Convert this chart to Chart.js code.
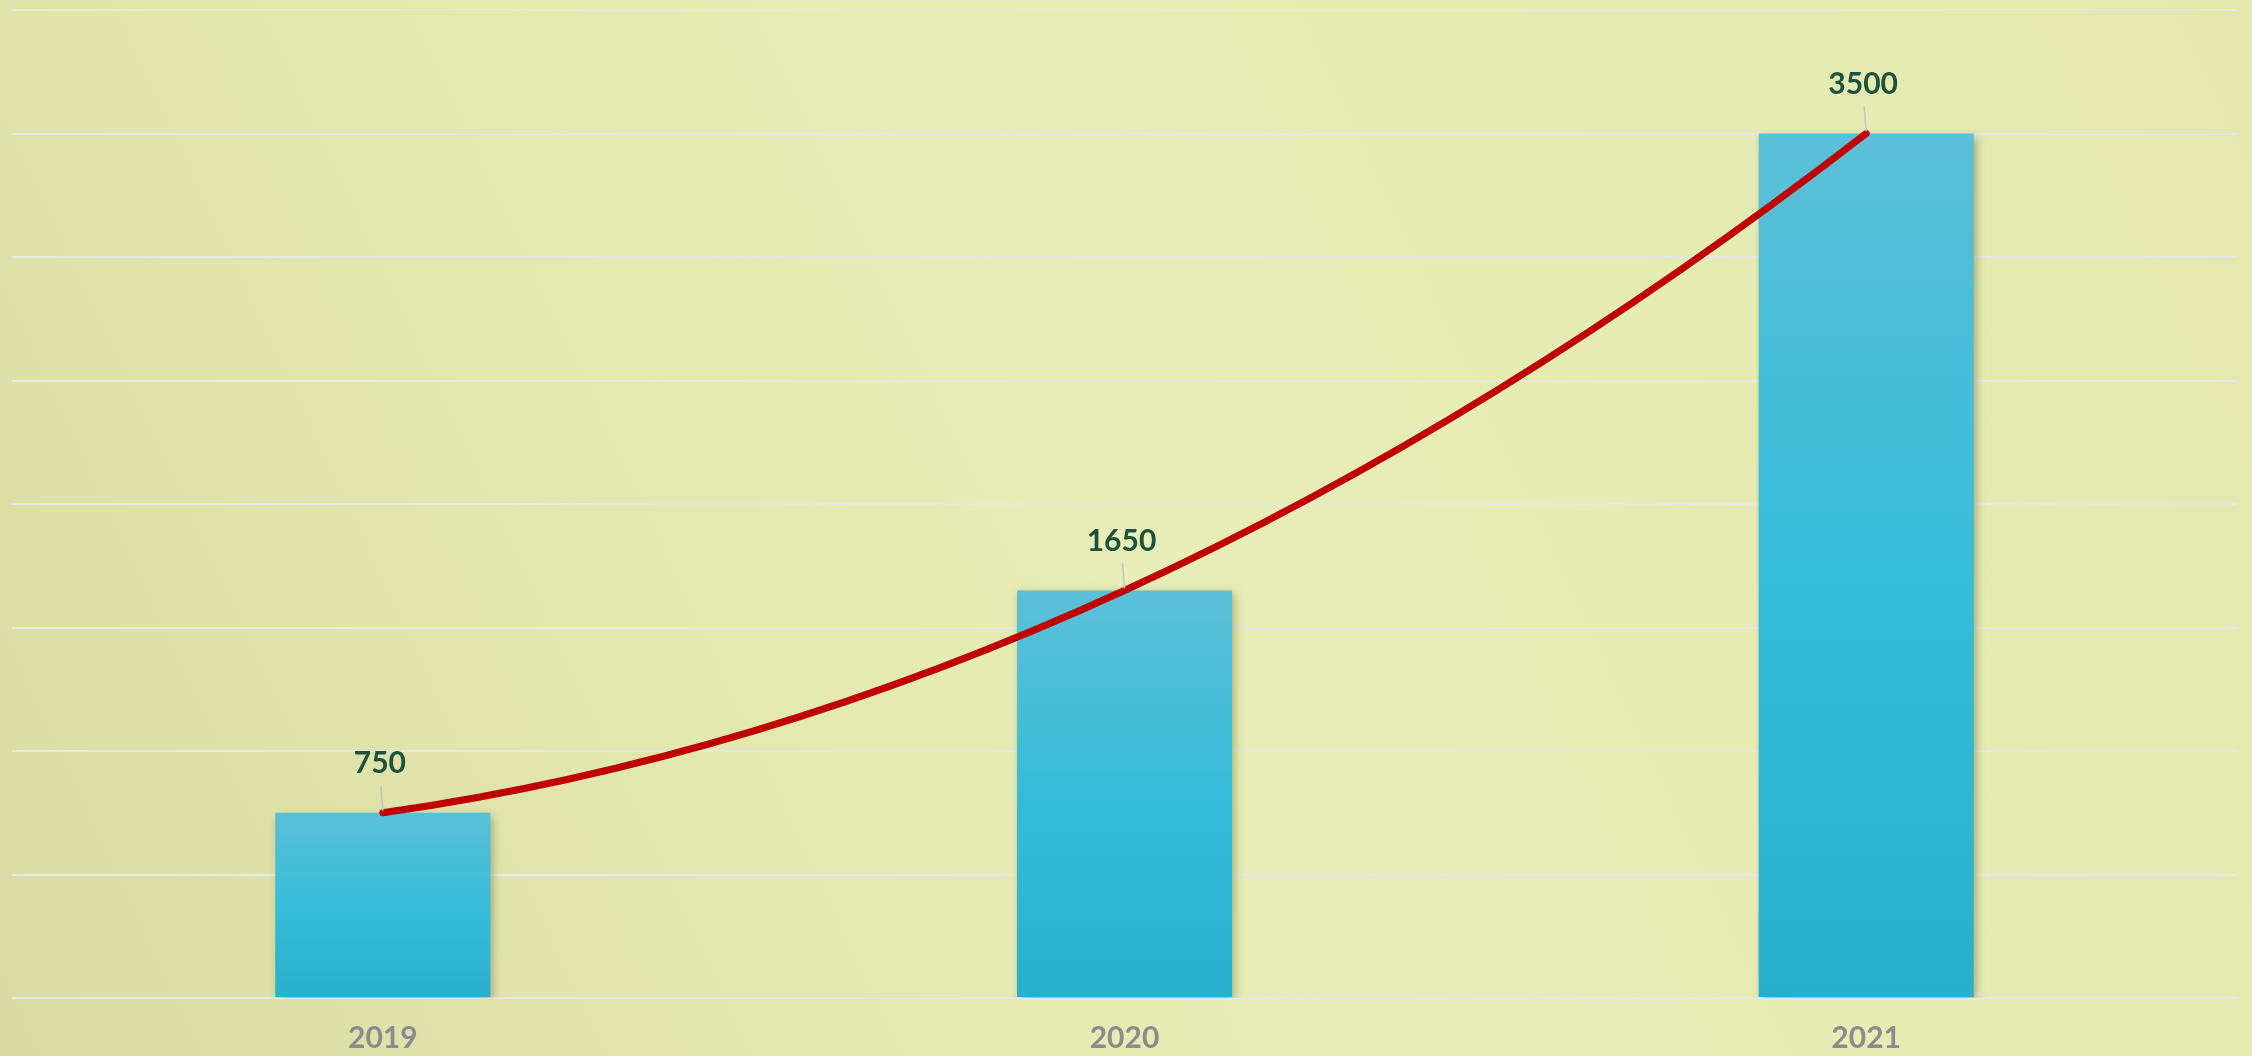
<!DOCTYPE html>
<html>
<head>
<meta charset="utf-8">
<script src="https://cdn.jsdelivr.net/npm/chart.js@4.4.1/dist/chart.umd.min.js"></script>
<style>
  html, body { margin: 0; padding: 0; background: #e4e8af; }
  #wrap { width: 2252px; height: 1056px; position: relative; }
</style>
</head>
<body>
<div id="wrap"><canvas id="chart" width="2252" height="1056"></canvas></div>
<script>
// Dados do gráfico
const years = ['2019', '2020', '2021'];
const values = [750, 1650, 3500];
const yMax = 4000;
const yStep = 500;

// Fundo com degradê
const backgroundPlugin = {
    id: 'bg',
    beforeDraw(chart) {
        const ctx = chart.ctx;
        const w = chart.width, h = chart.height;
        const g = ctx.createLinearGradient(0, h, w, 0);
        g.addColorStop(0, '#d9dda3');
        g.addColorStop(0.5, '#e9eeb8');
        g.addColorStop(1, '#e4e8b0');
        ctx.save();
        ctx.fillStyle = g;
        ctx.fillRect(0, 0, w, h);
        ctx.restore();
    }
};

// Sombra das barras
const shadowPlugin = {
    id: 'barShadow',
    beforeDatasetDraw(chart, args) {
        if (args.meta.type !== 'bar') return;
        const ctx = chart.ctx;
        ctx.save();
        ctx.shadowColor = 'rgba(70, 70, 30, 0.4)';
        ctx.shadowBlur = 9;
        ctx.shadowOffsetX = 3;
        ctx.shadowOffsetY = 3;
    },
    afterDatasetDraw(chart, args) {
        if (args.meta.type !== 'bar') return;
        chart.ctx.restore();
    }
};

// Suavização no estilo do Excel: tangentes centrais e pontas parabólicas
const smoothPlugin = {
    id: 'excelSmooth',
    beforeDatasetDraw(chart, args) {
        if (args.meta.type !== 'line') return;
        const line = args.meta.dataset;
        const pts = args.meta.data;
        line.updateControlPoints(chart.chartArea, 'x');
        const n = pts.length;
        if (n < 3) return;
        const slope = (a, b) => (b.y - a.y) / (b.x - a.x);
        const m = [];
        for (let i = 1; i < n - 1; i++) m[i] = slope(pts[i - 1], pts[i + 1]);
        m[0] = 2 * slope(pts[0], pts[1]) - m[1];
        m[n - 1] = 2 * slope(pts[n - 2], pts[n - 1]) - m[n - 2];
        pts.forEach((p, i) => {
            if (i > 0) {
                const dx = (p.x - pts[i - 1].x) / 3;
                p.cp1x = p.x - dx;
                p.cp1y = p.y - m[i] * dx;
            }
            if (i < n - 1) {
                const dx = (pts[i + 1].x - p.x) / 3;
                p.cp2x = p.x + dx;
                p.cp2y = p.y + m[i] * dx;
            }
        });
        line._path = undefined;
    }
};

// Rótulos com linhas de chamada
const labelPlugin = {
    id: 'valueLabels',
    afterDatasetsDraw(chart) {
        const ctx = chart.ctx;
        const meta = chart.getDatasetMeta(1);
        ctx.save();
        ctx.font = 'bold 30px Lato';
        ctx.textAlign = 'center';
        ctx.textBaseline = 'middle';
        meta.data.forEach((pt, i) => {
            const x = pt.x, y = pt.y;
            ctx.strokeStyle = '#c4c4c4';
            ctx.lineWidth = 1.5;
            ctx.beginPath();
            ctx.moveTo(x - 2, y - 27);
            ctx.lineTo(x, y - 2);
            ctx.stroke();
            ctx.fillStyle = '#1b533d';
            ctx.fillText(String(values[i]), x - 3, y - 49);
        });
        ctx.restore();
    }
};

function barGradient(context) {
    const chart = context.chart;
    const { chartArea, scales } = chart;
    if (!chartArea) return '#38bdd9';
    const v = context.raw;
    const top = scales.y.getPixelForValue(v);
    const bottom = scales.y.getPixelForValue(0);
    const g = chart.ctx.createLinearGradient(0, top, 0, bottom);
    g.addColorStop(0, '#5cc0d7');
    g.addColorStop(0.5, '#37bcd9');
    g.addColorStop(1, '#29aecb');
    return g;
}

const ctx = document.getElementById('chart').getContext('2d');
new Chart(ctx, {
    data: {
        labels: years,
        datasets: [
            {
                type: 'bar',
                data: values,
                backgroundColor: barGradient,
                borderWidth: 0,
                categoryPercentage: 1,
                barPercentage: 0.29,
                order: 1
            },
            {
                type: 'line',
                data: values,
                borderColor: '#c00000',
                borderWidth: 7,
                borderCapStyle: 'round',
                pointRadius: 0,
                cubicInterpolationMode: 'monotone',
                fill: false,
                order: 0
            }
        ]
    },
    options: {
        responsive: false,
        animation: false,
        layout: { padding: { left: 12, right: 15, top: 10, bottom: 0 } },
        plugins: {
            legend: { display: false },
            tooltip: { enabled: false }
        },
        scales: {
            x: {
                grid: { display: false },
                border: { display: false },
                ticks: {
                    color: '#8c8c8c',
                    font: { family: 'Lato', size: 30, weight: 'bold', lineHeight: 1 },
                    padding: 17
                },
                afterFit(scale) { scale.height = 58; }
            },
            y: {
                min: 0,
                max: yMax,
                border: { display: false },
                grid: { color: '#e8e8e3', lineWidth: 2, drawTicks: false },
                ticks: { display: false, stepSize: yStep }
            }
        }
    },
    plugins: [backgroundPlugin, shadowPlugin, smoothPlugin, labelPlugin]
});
</script>
</body>
</html>
